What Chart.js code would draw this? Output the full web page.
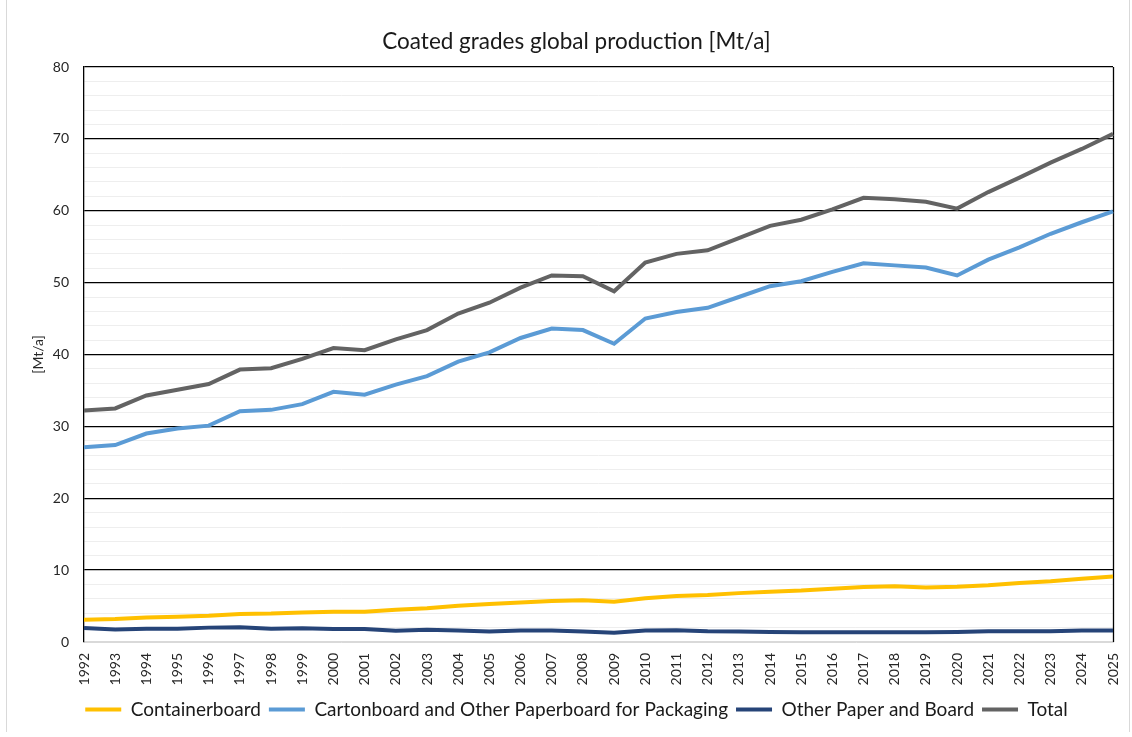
<!DOCTYPE html>
<html>
<head>
<meta charset="utf-8">
<script src="https://cdn.jsdelivr.net/npm/chart.js@4.4.1/dist/chart.umd.min.js"></script>
<style>
  html, body { margin: 0; padding: 0; background: #fff; }
  #wrap { width: 1132px; height: 737px; }
</style>
</head>
<body>
<div id="wrap"><canvas id="prodChart" width="1132" height="737"></canvas></div>
<script>
// data (Mt/a)
const years = ['1992','1993','1994','1995','1996','1997','1998','1999','2000','2001','2002','2003',
  '2004','2005','2006','2007','2008','2009','2010','2011','2012','2013','2014','2015','2016','2017',
  '2018','2019','2020','2021','2022','2023','2024','2025'];

const containerboard = [3.1, 3.2, 3.4, 3.5, 3.65, 3.9, 3.95, 4.1, 4.2, 4.2, 4.5, 4.7,
  5.05, 5.3, 5.5, 5.7, 5.8, 5.6, 6.1, 6.4, 6.55, 6.8, 7.0, 7.15, 7.4, 7.65,
  7.75, 7.6, 7.7, 7.9, 8.2, 8.45, 8.8, 9.1];

const cartonboard = [27.1, 27.4, 29.0, 29.7, 30.1, 32.1, 32.3, 33.1, 34.8, 34.4, 35.8, 37.0,
  39.0, 40.3, 42.3, 43.6, 43.4, 41.5, 45.0, 45.9, 46.5, 48.0, 49.5, 50.2, 51.5, 52.7,
  52.4, 52.1, 51.0, 53.2, 54.9, 56.8, 58.4, 59.9];

const otherPaper = [1.95, 1.75, 1.85, 1.85, 2.0, 2.05, 1.85, 1.9, 1.8, 1.8, 1.55, 1.7,
  1.6, 1.45, 1.6, 1.6, 1.45, 1.3, 1.6, 1.65, 1.5, 1.45, 1.4, 1.35, 1.35, 1.35,
  1.35, 1.35, 1.4, 1.5, 1.5, 1.5, 1.6, 1.6];

const total = [32.2, 32.5, 34.3, 35.1, 35.9, 37.9, 38.1, 39.4, 40.9, 40.6, 42.1, 43.4,
  45.7, 47.2, 49.3, 51.0, 50.9, 48.8, 52.8, 54.0, 54.5, 56.2, 57.9, 58.75, 60.2, 61.8,
  61.6, 61.25, 60.3, 62.6, 64.6, 66.7, 68.6, 70.7];

const FONT = 'Lato, "Open Sans", sans-serif';

// light frame and right plot border, like the spreadsheet export
const framePlugin = {
  id: 'frame',
  beforeDraw(chart) {
    const c = chart.ctx;
    c.save();
    c.fillStyle = '#fff';
    c.fillRect(0, 0, chart.width, chart.height);
    c.strokeStyle = '#d9d9d9';
    c.lineWidth = 1;
    c.beginPath();
    c.moveTo(6.5, 0); c.lineTo(6.5, 732);
    c.moveTo(1129.5, 0); c.lineTo(1129.5, 732);
    c.stroke();
    c.restore();
  },
  beforeDatasetsDraw(chart) {
    const a = chart.chartArea;
    const c = chart.ctx;
    c.save();
    c.strokeStyle = '#000';
    c.lineWidth = 1.3;
    c.beginPath();
    c.moveTo(Math.round(a.right) + 0.5, a.top);
    c.lineTo(Math.round(a.right) + 0.5, a.bottom);
    c.stroke();
    c.restore();
  }
};

function lineSet(label, data, color) {
  return {
    label: label,
    data: data,
    borderColor: color,
    backgroundColor: color,
    borderWidth: 4,
    pointRadius: 0,
    pointHoverRadius: 0,
    pointStyle: 'line',
    tension: 0,
    fill: false
  };
}

new Chart(document.getElementById('prodChart'), {
  type: 'line',
  data: {
    labels: years,
    datasets: [
      lineSet('Containerboard', containerboard, '#FFC000'),
      lineSet('Cartonboard and Other Paperboard for Packaging', cartonboard, '#5B9BD5'),
      lineSet('Other Paper and Board', otherPaper, '#264478'),
      lineSet('Total', total, '#636363')
    ]
  },
  plugins: [framePlugin],
  options: {
    responsive: false,
    animation: false,
    events: [],
    layout: { padding: { left: 40, right: 19, top: 0, bottom: 8 } },
    plugins: {
      title: {
        display: true,
        text: 'Coated grades global production [Mt/a]',
        color: '#1a1a1a',
        font: { family: FONT, size: 22.5, weight: 'normal' },
        padding: { top: 28.5, bottom: 11.5 }
      },
      legend: {
        position: 'bottom',
        labels: {
          usePointStyle: true,
          pointStyleWidth: 36,
          boxHeight: 19,
          padding: 8,
          color: '#1a1a1a',
          font: { family: FONT, size: 19 }
        }
      },
      tooltip: { enabled: false }
    },
    scales: {
      x: {
        offset: false,
        grid: { display: false, drawTicks: false },
        border: { color: '#d9d9d9', width: 1 },
        ticks: {
          autoSkip: false,
          maxRotation: 90,
          minRotation: 90,
          padding: 11,
          color: '#262626',
          font: { family: FONT, size: 14 }
        },
        afterFit(scale) {
          scale.height = 50;
          scale.paddingLeft = 0;
          scale.paddingRight = 0;
        }
      },
      y: {
        min: 0,
        max: 80,
        border: { color: '#000', width: 1.3 },
        grid: {
          drawTicks: false,
          color: ctx => ctx.tick.value === 0 ? '#d9d9d9' : (ctx.tick.value % 10 === 0 ? '#000' : '#eeeeee'),
          lineWidth: ctx => ctx.tick.value % 10 === 0 ? 1.3 : 1
        },
        ticks: {
          stepSize: 2,
          autoSkip: false,
          padding: 15,
          color: '#262626',
          font: { family: FONT, size: 14 },
          callback: v => (v % 10 === 0 ? v : '')
        },
        title: {
          display: true,
          text: '[Mt/a]',
          color: '#262626',
          font: { family: FONT, size: 14 },
          padding: { top: -10.4, bottom: 0 }
        },
        afterFit(scale) { scale.width = 44; }
      }
    }
  }
});
</script>
</body>
</html>
